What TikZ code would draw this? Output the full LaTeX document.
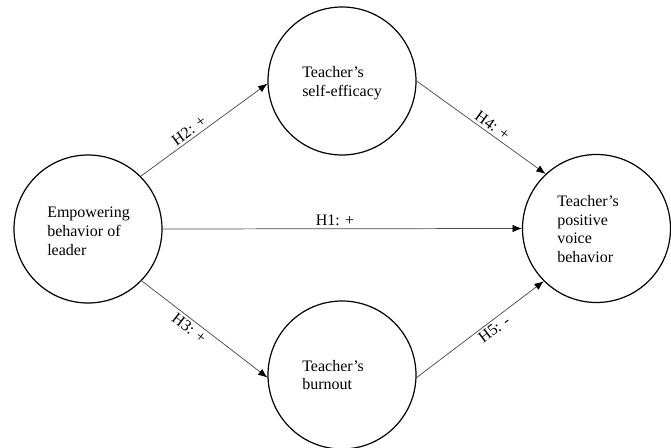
\documentclass[tikz,border=0pt]{standalone}
\usepackage{fontspec}
\setmainfont{Liberation Serif}
\usetikzlibrary{arrows.meta}
\begin{document}
\begin{tikzpicture}[x=0.75pt,y=-0.75pt,
  construct/.style={circle,draw=black,line width=0.9pt,minimum size=111pt,inner sep=0pt},
  lbl/.style={font=\fontsize{12}{14.2}\selectfont,align=left,anchor=west,inner sep=0pt},
  path/.style={draw=black!70,line width=0.55pt,-{Latex[length=7pt,width=5.5pt,color=black]}},
  hyp/.style={font=\fontsize{12}{14}\selectfont,inner sep=2pt}]
\useasboundingbox (0,0) rectangle (671,448);
\node[construct] (L) at (88,229) {};
\node[construct] (T) at (342,81) {};
\node[construct] (B) at (342,375) {};
\node[construct] (R) at (596.5,228.5) {};
\node[lbl] (Lt) at (47,231) {Empowering\\behavior of\\leader};
\node[lbl] (Tt) at (302,83) {Teacher’s\\self-efficacy};
\node[lbl] (Bt) at (302,375) {Teacher’s\\burnout};
\node[lbl] (Rt) at (557,229) {Teacher’s\\positive\\voice\\behavior};
\draw[path] (L.east) -- node[hyp,above,pos=0.48] (h1) {H1: +} (R.west);
\draw[path] (L.45) -- node[hyp,above,sloped,pos=0.42] (h2) {H2: +} (T.182);
\draw[path] (L.-44) -- node[hyp,below,sloped,pos=0.42] (h3) {H3: +} (B.182);
\draw[path] (T.0) -- node[hyp,above,sloped,pos=0.55] (h4) {H4: +} (R.133);
\draw[path] (B.358) -- node[hyp,below,sloped,pos=0.57] (h5) {H5: -} (R.225);
\end{tikzpicture}
\end{document}
